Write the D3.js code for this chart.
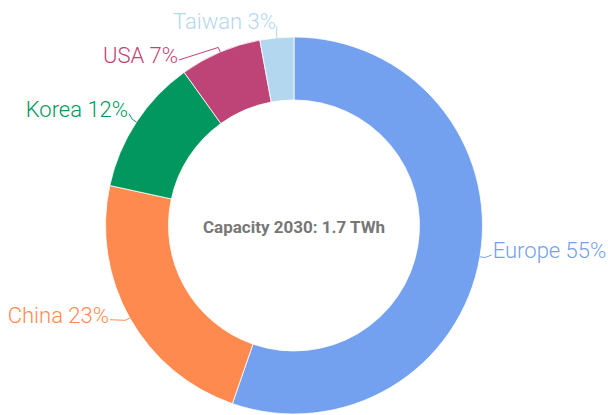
<!DOCTYPE html>
<html>
<head>
<meta charset="utf-8">
<script src="https://cdn.jsdelivr.net/npm/d3@7"></script>
<style>
  body { margin: 0; background: #fff; }
  text { font-family: Roboto, "Noto Sans", sans-serif; }
</style>
</head>
<body>
<div id="chart"></div>
<script>
// capacity share by region, 2030
var regions = ["Europe", "China", "Korea", "USA", "Taiwan"];
var shares = [55.3, 23.1, 11.7, 7.0, 2.9];
var colors = ["#74a0f0", "#ff8a50", "#02975e", "#be4477", "#b4d7f0"];
var centerLabel = "Capacity 2030: 1.7 TWh";

var width = 608;
var height = 415;
var cx = 294, cy = 225.5;
var R = 188.5, r0 = 125.5;

// label leader end offsets (collision tweaks)
var nudge = [[-2, -4], [-7.5, -5], [4.3, -0.6], [-35.7, 20.8], [1.4, 2.2]];

var svg = d3.select("#chart")
    .append("svg")
    .attr("width", width)
    .attr("height", height)
    .append("g")
    .attr("transform", "translate(" + cx + "," + cy + ")");

var pie = d3.pie().sort(null).value((d) => d);
var arcs = pie(shares);

var arc = d3.arc().innerRadius(r0).outerRadius(R);

svg.selectAll("path.slice")
    .data(arcs)
    .enter()
    .append("path")
    .attr("class", "slice")
    .attr("d", arc)
    .attr("fill", (d, i) => colors[i])
    .attr("stroke", "#fff")
    .attr("stroke-width", 0.8);

function polar(rad, a) {
    return [rad * Math.sin(a), -rad * Math.cos(a)];
}

var fmt = d3.format(".0f");

arcs.forEach((d, i) => {
    var a = (d.startAngle + d.endAngle) / 2;
    var p0 = polar(R, a);
    var p1 = polar(R + 5, a);
    var p2 = polar(R + 14, a);
    var e = [p2[0] + nudge[i][0], p2[1] + nudge[i][1]];

    svg.append("polyline")
        .attr("points", [p0, p1, e].map((p) => p.join(",")).join(" "))
        .attr("fill", "none")
        .attr("stroke", colors[i])
        .attr("stroke-width", 1);

    var left = e[0] < 0;
    svg.append("text")
        .attr("x", e[0] + (left ? -1 : 1))
        .attr("y", e[1] + 3)
        .attr("text-anchor", left ? "end" : "start")
        .attr("fill", colors[i])
        .style("font-size", "22px")
        .style("font-weight", 300)
        .text(regions[i] + " " + fmt(d.data) + "%");
});

svg.append("text")
    .attr("x", 0)
    .attr("y", 7.5)
    .attr("text-anchor", "middle")
    .attr("fill", "#777")
    .style("font-size", "17px")
    .style("font-weight", "bold")
    .text(centerLabel);
</script>
</body>
</html>
